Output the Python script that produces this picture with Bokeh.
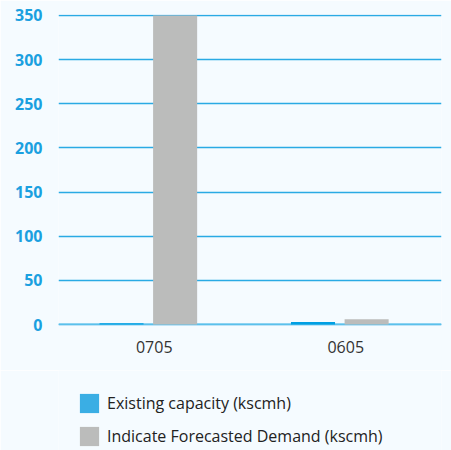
from bokeh.plotting import figure
from bokeh.models import ColumnDataSource, Legend, LegendItem, FactorRange, Span
from bokeh.layouts import column
from bokeh.transform import dodge
from bokeh.embed import file_html
from bokeh.resources import INLINE

categories = ["0705", "0605"]
existing_capacity = [1.5, 3]
forecast_demand = [350, 6]
y_ticks = [0, 50, 100, 150, 200, 250, 300, 350]
series_names = ["Existing capacity (kscmh)", "Indicate Forecasted Demand (kscmh)"]
series_colors = ["#009fe3", "#bbbcbb"]
legend_colors = ["#3aaee4", "#bbbcbb"]
BG = "#f5fbff"

source = ColumnDataSource(dict(cat=categories, existing=existing_capacity, demand=forecast_demand))

p = figure(width=451, height=370, x_range=FactorRange(*categories), y_range=(-1, 351),
           output_backend="svg", toolbar_location=None,
           min_border_left=58, min_border_right=10, min_border_top=14, min_border_bottom=45)
p.background_fill_color = BG
p.border_fill_color = BG
p.outline_line_color = None

p.ygrid.grid_line_color = "#2aaae4"
p.ygrid.grid_line_width = 1.5
p.xgrid.grid_line_color = None
p.add_layout(Span(location=0, dimension="width", line_color="#5bc0eb", line_width=2, level="underlay"))

p.vbar(x=dodge("cat", -0.171, range=p.x_range), top="existing", width=0.23, source=source,
       color=series_colors[0], line_color=None)
p.vbar(x=dodge("cat", 0.109, range=p.x_range), top="demand", width=0.23, source=source,
       color=series_colors[1], line_color=None)

p.yaxis.ticker = y_ticks
p.yaxis.axis_line_color = None
p.yaxis.major_tick_line_color = None
p.yaxis.minor_tick_line_color = None
p.yaxis.major_label_text_color = "#1aa0e0"
p.yaxis.major_label_text_font = "Open Sans"
p.yaxis.major_label_text_font_style = "bold"
p.yaxis.major_label_text_font_size = "16px"
p.yaxis.major_label_standoff = 10

p.xaxis.axis_line_color = None
p.xaxis.major_tick_line_color = None
p.xaxis.minor_tick_line_color = None
p.xaxis.major_label_text_color = "#333333"
p.xaxis.major_label_text_font = "Open Sans"
p.xaxis.major_label_text_font_size = "16px"
p.xaxis.major_label_standoff = 9

# legend panel
pl = figure(width=451, height=80, x_range=(0, 1), y_range=(0, 1),
            output_backend="svg", toolbar_location=None,
            min_border_left=0, min_border_right=0, min_border_top=0, min_border_bottom=0)
pl.axis.visible = False
pl.grid.visible = False
pl.outline_line_color = None
pl.background_fill_color = BG
pl.border_fill_color = BG
lr1 = pl.vbar(x="existing", top="existing", width=0.1, source=source,
              color=legend_colors[0], line_color=None, visible=False)
lr2 = pl.vbar(x="demand", top="demand", width=0.1, source=source,
              color=legend_colors[1], line_color=None, visible=False)

legend = Legend(items=[LegendItem(label=series_names[0], renderers=[lr1]),
                       LegendItem(label=series_names[1], renderers=[lr2])],
                location=(19, 2), orientation="vertical",
                background_fill_alpha=0, border_line_color=None,
                glyph_width=24, glyph_height=24, label_height=18, spacing=9,
                label_standoff=6, padding=0, margin=0,
                label_text_font="Open Sans", label_text_font_size="16px", label_text_color="#222222")
pl.add_layout(legend, "center")

layout = column(p, pl, spacing=0)
open("out.html", "w").write(file_html(layout, INLINE))
